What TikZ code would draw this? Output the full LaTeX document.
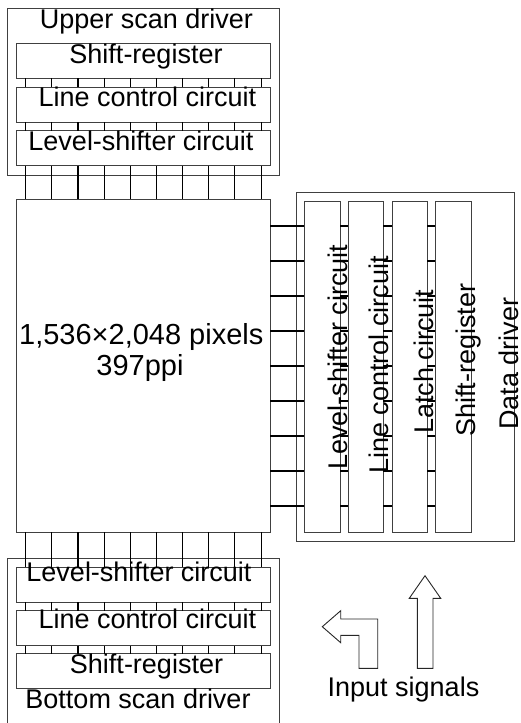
\documentclass[tikz,border=0pt]{standalone}
\usepackage{fontspec}
\setmainfont{Liberation Sans}
\begin{document}
\begin{tikzpicture}[x=1pt,y=-1pt,
  box/.style={draw=black!75, line width=0.9pt, inner sep=0pt, outer sep=0pt, anchor=north west},
  wire/.style={draw=black, line width=1.1pt},
  lbl/.style={inner sep=0pt, anchor=base, font=\fontsize{27}{30}\selectfont},
  big/.style={inner sep=0pt, anchor=base, font=\fontsize{29}{32}\selectfont},
  vlbl/.style={inner sep=0pt, anchor=base west, rotate=90, font=\fontsize{27}{30}\selectfont},
  sig/.style={draw=black!85, line width=0.9pt, line join=miter}]
\useasboundingbox (0,0) rectangle (521,723);
% upper scan driver
\node[box, minimum width=272pt, minimum height=167pt] (uo) at (7,8) {};
\node[box, minimum width=254pt, minimum height=35pt] (usr) at (16,43) {};
\node[box, minimum width=254pt, minimum height=35pt] (ulc) at (16,87) {};
\node[box, minimum width=254pt, minimum height=35pt] (uls) at (16,130.5) {};
% panel
\node[box, minimum width=254pt, minimum height=333pt] (pix) at (16,199) {};
% bottom scan driver
\node[box, minimum width=272pt, minimum height=170pt] (bo) at (7,558) {};
\node[box, minimum width=254pt, minimum height=35pt] (bls) at (16,567) {};
\node[box, minimum width=254pt, minimum height=35pt] (blc) at (16,610.5) {};
\node[box, minimum width=254pt, minimum height=35pt] (bsr) at (16,653.5) {};
% data driver
\node[box, minimum width=218pt, minimum height=349pt] (do) at (296,192) {};
\node[box, minimum width=36pt, minimum height=331pt] (d1) at (304,201) {};
\node[box, minimum width=35pt, minimum height=331pt] (d2) at (348,201) {};
\node[box, minimum width=35pt, minimum height=331pt] (d3) at (392,201) {};
\node[box, minimum width=36pt, minimum height=331pt] (d4) at (435,201) {};
% vertical wires
\foreach \i in {0,...,9}{
  \pgfmathsetmacro{\xx}{25.7+26.15*\i}
  \draw[wire] (\xx,0 |- usr.south) -- (\xx,0 |- ulc.north);
  \draw[wire] (\xx,0 |- ulc.south) -- (\xx,0 |- uls.north);
  \draw[wire] (\xx,0 |- uls.south) -- (\xx,0 |- pix.north);
  \draw[wire] (\xx,0 |- pix.south) -- (\xx,0 |- bls.north);
  \draw[wire] (\xx,0 |- bls.south) -- (\xx,0 |- blc.north);
  \draw[wire] (\xx,0 |- blc.south) -- (\xx,0 |- bsr.north);
}
% horizontal wires
\foreach \i in {0,...,8}{
  \pgfmathsetmacro{\yy}{226+35*\i}
  \draw[wire] (pix.east |- 0,\yy) -- (d1.west |- 0,\yy);
  \draw[wire] (d1.east |- 0,\yy) -- (d2.west |- 0,\yy);
  \draw[wire] (d2.east |- 0,\yy) -- (d3.west |- 0,\yy);
  \draw[wire] (d3.east |- 0,\yy) -- (d4.west |- 0,\yy);
}
% labels
\node[lbl] (tusd) at (146.5,28.3) {Upper scan driver};
\node[lbl] (tusr) at (146,63.3) {Shift-register};
\node[lbl] (tulc) at (147.5,106.7) {Line control circuit};
\node[lbl] (tuls) at (141,150) {Level-shifter circuit};
\node[big] (tpx1) at (141.3,344) {1,536×2,048 pixels};
\node[big] (tpx2) at (140,375) {397ppi};
\node[lbl] (tbls) at (139,581.7) {Level-shifter circuit};
\node[lbl] (tblc) at (147.5,628.3) {Line control circuit};
\node[lbl] (tbsr) at (146.5,673.3) {Shift-register};
\node[lbl] (tbsd) at (138,708.3) {Bottom scan driver};
\node[lbl] (tin) at (403.5,696.7) {Input signals};
\node[vlbl] (td1) at (347,470) {Level-shifter circuit};
\node[vlbl] (td2) at (388,474) {Line control circuit};
\node[vlbl] (td3) at (433,434) {Latch circuit};
\node[vlbl] (td4) at (475,437) {Shift-register};
\node[vlbl] (td5) at (518,430) {Data driver};
% input signal arrows
\draw[sig] (322.3,626.7) -- (340.7,610.7) -- (340.7,619) -- (377.7,619) -- (377.7,668.3)
  -- (359,668.3) -- (359,635.3) -- (340.7,635.3) -- (340.7,642.7) -- cycle;
\draw[sig] (425,575.7) -- (440.7,598.3) -- (433,598.3) -- (433,668.3) -- (417.3,668.3)
  -- (417.3,598.3) -- (409.3,598.3) -- cycle;
\end{tikzpicture}
\end{document}
